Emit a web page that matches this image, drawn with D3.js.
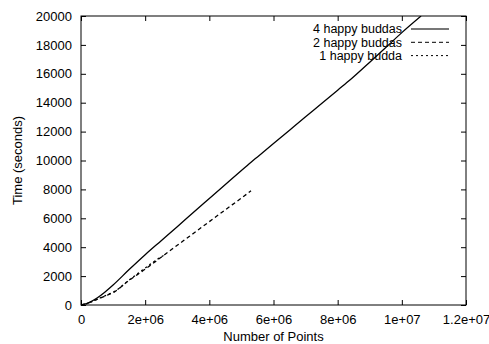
<!DOCTYPE html>
<html>
<head>
<meta charset="utf-8">
<script src="https://cdn.jsdelivr.net/npm/d3@7"></script>
<style>
  body { margin: 0; background: #fff; }
  text { font-family: "Liberation Sans", Arial, sans-serif; font-size: 13px; fill: #000; }
</style>
</head>
<body>
<div id="visualization"></div>
<script>
let w = 489;
let h = 344;
let margin = {left: 81, right: 23, top: 16, bottom: 39};

// series: [points, seconds]
let fourBuddas = [
  [0,0],[2.5e5,170],[5e5,480],[7.5e5,900],[1e6,1380],[1.5e6,2450],[2e6,3480],
  [2.5e6,4450],[3e6,5420],[3.5e6,6400],[4e6,7370],[4.5e6,8340],[5e6,9310],
  [5.3e6,9880],[5.5e6,10250],[6e6,11180],[6.5e6,12100],[7e6,13020],[7.5e6,13950],
  [8e6,14870],[8.4e6,15600],[9e6,16800],[9.5e6,17820],[1e7,18850],[1.06e7,20000]
];
let twoBuddas = [
  [0,0],[2.5e5,160],[5e5,390],[7.5e5,620],[1e6,860],[1.5e6,1700],[2e6,2480],
  [2.5e6,3310],[3e6,4130],[3.5e6,4950],[4e6,5770],[4.5e6,6590],[5e6,7400],[5.3e6,7900]
];
let oneBudda = [
  [0,0],[2.5e5,150],[5e5,400],[7.5e5,640],[1e6,880],[1.5e6,1730],[2e6,2560],
  [2.3e6,3050],[2.65e6,3520]
];
let seriesNames = ["4 happy buddas", "2 happy buddas", "1 happy budda"];
let xTicks = [0, 2e6, 4e6, 6e6, 8e6, 1e7, 1.2e7];
let xTickLabels = ["0", "2e+06", "4e+06", "6e+06", "8e+06", "1e+07", "1.2e+07"];
let yTicks = [0, 2000, 4000, 6000, 8000, 10000, 12000, 14000, 16000, 18000, 20000];

let series = [fourBuddas, twoBuddas, oneBudda];
let dashes = [null, "4,3", "2,3"];

let viz = d3.select("#visualization")
    .append("svg")
  .attr("width", w)
  .attr("height", h)
;

let xScale = d3.scaleLinear().domain([0, 1.2e7]).range([margin.left, w - margin.right]);
let yScale = d3.scaleLinear().domain([0, 20000]).range([h - margin.bottom, margin.top]);

// axes (ticks point inward, mirrored like gnuplot)
let bottomAxis = d3.axisBottom(xScale).tickValues(xTicks).tickSizeInner(-5).tickSizeOuter(0)
  .tickPadding(10).tickFormat((d, i) => xTickLabels[i]);
let leftAxis = d3.axisLeft(yScale).tickValues(yTicks).tickSizeInner(-5).tickSizeOuter(0)
  .tickPadding(9).tickFormat(d3.format("d"));
let topAxis = d3.axisTop(xScale).tickValues(xTicks).tickSizeInner(-5).tickSizeOuter(0).tickFormat("");
let rightAxis = d3.axisRight(yScale).tickValues(yTicks).tickSizeInner(-5).tickSizeOuter(0).tickFormat("");

viz.append("g").attr("transform", `translate(0,${h - margin.bottom})`).call(bottomAxis);
viz.append("g").attr("transform", `translate(${margin.left},0)`).call(leftAxis);
viz.append("g").attr("transform", `translate(0,${margin.top})`).call(topAxis);
viz.append("g").attr("transform", `translate(${w - margin.right},0)`).call(rightAxis);

viz.selectAll(".domain").remove();
viz.selectAll(".tick line").attr("stroke", "#000");
viz.selectAll(".tick text").style("font-size", "13px").attr("fill", "#000")
  .style("font-family", "Liberation Sans, Arial, sans-serif");

// border
viz.append("rect")
  .attr("x", margin.left).attr("y", margin.top)
  .attr("width", w - margin.left - margin.right)
  .attr("height", h - margin.top - margin.bottom)
  .attr("fill", "none").attr("stroke", "#000");

// clip curves to plot area
viz.append("clipPath").attr("id", "plotclip")
  .append("rect")
  .attr("x", margin.left).attr("y", margin.top)
  .attr("width", w - margin.left - margin.right)
  .attr("height", h - margin.top - margin.bottom);

let line = d3.line()
  .x(d => xScale(d[0]))
  .y(d => yScale(d[1]))
  .curve(d3.curveMonotoneX);

viz.selectAll(".curve").data(series).enter()
  .append("path")
  .attr("class", "curve")
  .attr("clip-path", "url(#plotclip)")
  .attr("d", d => line(d))
  .attr("fill", "none")
  .attr("stroke", "#000")
  .attr("stroke-width", 1.3)
  .attr("stroke-dasharray", (d, i) => dashes[i])
;

// legend
let legend = viz.append("g");
seriesNames.forEach((name, i) => {
  let y = 29 + i * 13.3;
  legend.append("text")
    .attr("x", 402).attr("y", y)
    .attr("dy", "0.35em")
    .attr("text-anchor", "end")
    .style("font-size", "12.5px")
    .text(name);
  legend.append("line")
    .attr("x1", 411).attr("x2", 449)
    .attr("y1", y).attr("y2", y)
    .attr("stroke", i == 0 ? "#777" : "#000")
    .attr("stroke-width", i == 0 ? 2 : 1)
    .attr("stroke-dasharray", dashes[i]);
});

// axis titles
viz.append("text")
  .attr("x", (margin.left + w - margin.right) / 2)
  .attr("y", 341)
  .attr("text-anchor", "middle")
  .text("Number of Points");

viz.append("text")
  .attr("transform", `translate(22,${(margin.top + h - margin.bottom) / 2}) rotate(-90)`)
  .attr("text-anchor", "middle")
  .text("Time (seconds)");
</script>
</body>
</html>
